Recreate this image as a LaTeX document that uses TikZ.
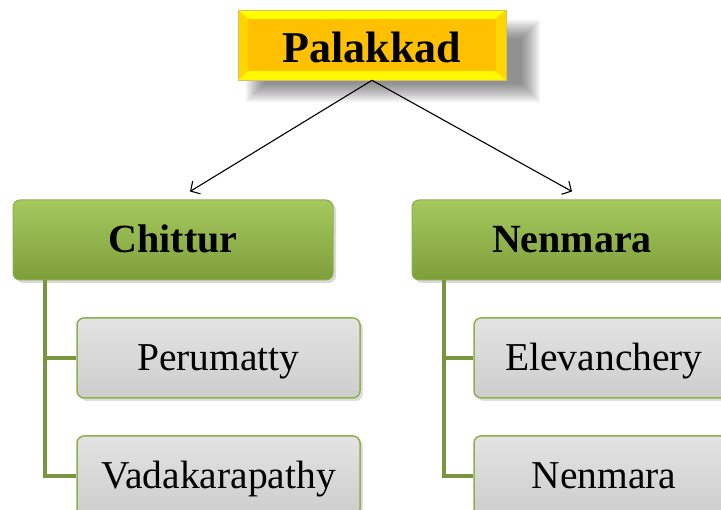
\documentclass[tikz,border=0pt]{standalone}
\usepackage{fontspec}
\setmainfont{Liberation Serif}
\usetikzlibrary{arrows.meta,shadows,backgrounds}

\definecolor{gold}{HTML}{FFC000}
\definecolor{goldedge}{HTML}{D9C060}
\definecolor{lemon}{HTML}{FFFF00}
\definecolor{lemonside}{HTML}{FFD500}
\definecolor{greentop}{HTML}{A6C95E}
\definecolor{greenbot}{HTML}{7E9E3B}
\definecolor{greenedge}{HTML}{8DB04A}
\definecolor{greytop}{HTML}{E3E3E3}
\definecolor{greybot}{HTML}{CDCDCD}
\definecolor{branchgreen}{HTML}{7A9540}

\begin{document}
\begin{tikzpicture}[x=1pt,y=1pt,
    topbox/.style={draw=goldedge, line width=0.6pt, fill=gold, inner sep=0pt,
      minimum width=268pt, minimum height=70pt, text height=38pt, text depth=2pt,
      font=\fontsize{44pt}{44pt}\selectfont\bfseries,
      path picture={
        % bevel bands
        \fill[lemon] (path picture bounding box.north west) -- (path picture bounding box.north east)
          -- ([xshift=-10pt,yshift=-9pt]path picture bounding box.north east)
          -- ([xshift=10pt,yshift=-9pt]path picture bounding box.north west) -- cycle;
        \fill[lemon!90!gold] (path picture bounding box.south west) -- (path picture bounding box.south east)
          -- ([xshift=-10pt,yshift=9pt]path picture bounding box.south east)
          -- ([xshift=10pt,yshift=9pt]path picture bounding box.south west) -- cycle;
        \fill[lemonside] (path picture bounding box.north west)
          -- ([xshift=10pt,yshift=-9pt]path picture bounding box.north west)
          -- ([xshift=10pt,yshift=9pt]path picture bounding box.south west)
          -- (path picture bounding box.south west) -- cycle;
        \fill[lemonside] (path picture bounding box.north east)
          -- ([xshift=-10pt,yshift=-9pt]path picture bounding box.north east)
          -- ([xshift=-10pt,yshift=9pt]path picture bounding box.south east)
          -- (path picture bounding box.south east) -- cycle;
      }},
    blockbox/.style={draw=greenedge, line width=1pt, rounded corners=7pt,
      top color=greentop, bottom color=greenbot, inner sep=0pt,
      minimum width=320pt, minimum height=80pt, text height=30pt, text depth=4pt,
      font=\fontsize{40pt}{40pt}\selectfont\bfseries,
      drop shadow={shadow xshift=3pt, shadow yshift=-3pt, opacity=0.3}},
    townbox/.style={draw=greenedge, line width=1.5pt, rounded corners=7pt,
      top color=greytop, bottom color=greybot, inner sep=0pt,
      minimum height=80pt, text height=30pt, text depth=4pt,
      font=\fontsize{39.5pt}{39.5pt}\selectfont,
      drop shadow={shadow xshift=3pt, shadow yshift=-3pt, opacity=0.25}},
    branch/.style={draw=branchgreen, line width=4pt},
    link/.style={-{Straight Barb[length=7pt,width=15pt]}, line width=1.1pt, black}]

  \clip (0,0) rectangle (721,510);

  % district
  \node [topbox] (pal) at (372,465) {Palakkad};
  % soft shadow of district box
  \begin{scope}[on background layer]
    \foreach \b in {0,2,...,18}
      \fill [black, opacity=0.055] ([xshift=8pt+\b pt,yshift=-22pt+\b pt]pal.south west)
        rectangle ([xshift=34pt-\b pt,yshift=-10pt-\b pt]pal.north east);
  \end{scope}

  % blocks
  \node [blockbox] (chit) at (173,270) {Chittur};
  \node [blockbox] (nenb) at (572,270) {Nenmara};

  % arrows down
  \draw [link] (pal.south) -- ([xshift=17pt,yshift=8pt]chit.north);
  \draw [link] (pal.south) -- ([yshift=8pt]nenb.north);

  % panchayats under Chittur
  \node [townbox, minimum width=283pt] (peru) at (218.5,152) {Perumatty};
  \node [townbox, minimum width=283pt] (vada) at (218.5,34) {Vadakarapathy};
  \draw [branch] ([xshift=32pt]chit.south west) |- (peru.west);
  \draw [branch] ([xshift=32pt]chit.south west) |- (vada.west);

  % panchayats under Nenmara
  \node [townbox, minimum width=260pt] (elev) at (604,152) {Elevanchery};
  \node [townbox, minimum width=260pt] (nenp) at (604,34) {Nenmara};
  \draw [branch] ([xshift=32pt]nenb.south west) |- (elev.west);
  \draw [branch] ([xshift=32pt]nenb.south west) |- (nenp.west);
\end{tikzpicture}
\end{document}
